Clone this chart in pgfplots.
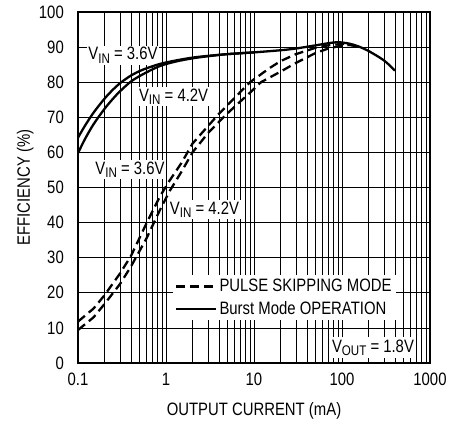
\documentclass[border=0pt]{standalone}
\usepackage{fontspec}
\setmainfont[FakeStretch=0.83]{Liberation Sans}
\usepackage{pgfplots}
\pgfplotsset{compat=1.18}
\newcommand{\sub}[1]{\raisebox{-3.5bp}{\fontsize{14}{14}\selectfont #1}}
\begin{document}
\begin{tikzpicture}
\begin{axis}[
  scale only axis, width=352bp, height=351bp,
  xmode=log, xmin=0.1, xmax=1000, ymin=0, ymax=100,
  xtick={0.1,1,10,100,1000}, xticklabels={0.1,1,10,100,1000},
  minor xtick={0.2,0.3,0.4,0.5,0.6,0.7,0.8,0.9,2,3,4,5,6,7,8,9,20,30,40,50,60,70,80,90,200,300,400,500,600,700,800,900},
  ytick={0,10,...,100},
  grid=both,
  major grid style={black, line width=0.7bp},
  minor grid style={black, line width=0.7bp},
  major tick length=0pt, minor tick length=0pt,
  axis line style={line width=1.2bp},
  font=\fontsize{18}{21}\selectfont,
  tick label style={font=\fontsize{18}{21}\selectfont},
  /pgf/number format/assume math mode=true,
  yticklabel style={inner sep=0pt, xshift=-14bp},
  xticklabel style={inner sep=0pt, yshift=-10bp},
  xlabel={OUTPUT CURRENT (mA)}, ylabel={EFFICIENCY (\%)},
  every axis x label/.style={at={(axis description cs:0.5,-0.135)}, anchor=center},
  every axis y label/.style={at={(axis description cs:-0.15,0.5)}, anchor=center, rotate=90},
  legend style={at={(axis description cs:0.27,0.25)}, anchor=north west, draw=none, fill=white, inner sep=2bp, row sep=4bp, font=\fontsize{18}{21}\selectfont},
  legend cell align=left,
  legend image code/.code={\draw[#1] (0bp,0bp) -- (40bp,0bp);},
]
\node[fill=white, inner sep=1.5bp] at (axis cs:0.324,87.7) {V\sub{IN} = 3.6V};
\node[fill=white, inner sep=1.5bp] at (axis cs:1.22,75.8) {V\sub{IN} = 4.2V};
\node[fill=white, inner sep=1.5bp] at (axis cs:0.39,55) {V\sub{IN} = 3.6V};
\node[fill=white, inner sep=1.5bp] at (axis cs:2.74,43.6) {V\sub{IN} = 4.2V};
\node[fill=white, inner sep=2.5bp] at (axis cs:225,4.4) {V\sub{OUT} = 1.8V};

\addplot[black, line width=2.3bp, dash pattern=on 9bp off 5bp] coordinates {
(0.1,11.8) (0.15,15.5) (0.2,19.3) (0.3,25.5) (0.4,30.5) (0.6,39.8) (0.85,47.4) (1.1,52) (1.5,57) (2,62.5) (3,67.5) (4,71) (6,75.5) (9,80) (15,84) (20,86) (30,88) (50,89.8) (70,90.5) (100,90.9) (120,90.9)
};
\addlegendentry{PULSE SKIPPING MODE}
\addplot[black, line width=2.3bp, dash pattern=on 9bp off 5bp, forget plot] coordinates {
(0.1,9.4) (0.15,13) (0.2,16.8) (0.3,22.5) (0.4,27.5) (0.6,35.5) (0.85,43.5) (1.1,49) (1.5,54.5) (2,60) (3,65.5) (4.5,70) (6,73) (9,77) (12,80) (20,83) (30,85.5) (50,88.3) (70,89.6) (90,90.2) (120,90.6) (150,90.2)
};
\addplot[black, line width=2.3bp, smooth] coordinates {
(0.1,64.2) (0.12,67.6) (0.15,71.3) (0.2,75.3) (0.25,77.9) (0.3,79.7) (0.4,81.9) (0.55,83.6) (0.85,85.2) (1.3,86.2) (2,87) (3,87.5) (5,88) (10,88.5) (20,89.1) (30,89.6) (50,90.5) (70,91.1) (90,91.4) (120,91.0) (150,90.3) (200,88.9) (300,86.2) (400,83.3)
};
\addlegendentry{Burst Mode OPERATION}
\addplot[black, line width=2.3bp, smooth, forget plot] coordinates {
(0.1,59.8) (0.12,63.8) (0.15,68) (0.2,72.4) (0.25,75.3) (0.3,77.4) (0.4,80.2) (0.55,82.3) (0.85,84.6) (1.3,85.9) (2,86.8) (3,87.4) (5,88) (10,88.5)
};
\end{axis}
\pgfresetboundingbox
\path[use as bounding box] ([shift={(-78bp,-60bp)}]current axis.south west) rectangle ([shift={(21bp,12bp)}]current axis.north east);
\end{tikzpicture}
\end{document}
